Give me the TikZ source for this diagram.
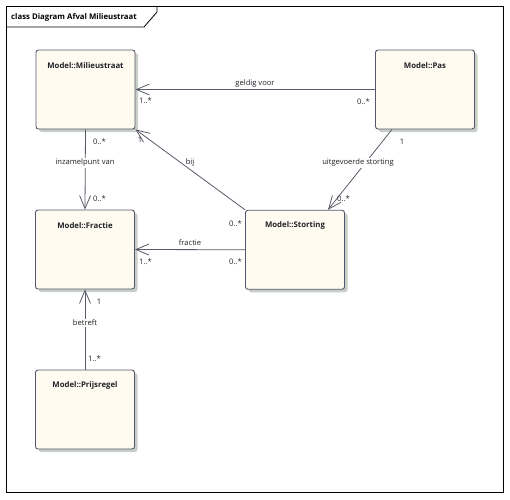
\documentclass[tikz,border=0pt]{standalone}
\usepackage{fontspec}
\setmainfont{Open Sans}
\usetikzlibrary{arrows.meta}
\definecolor{boxfill}{HTML}{FFFBF0}
\definecolor{boxline}{HTML}{55556E}
\definecolor{shadowc}{HTML}{C8CFC6}
\definecolor{linec}{HTML}{5A5A6A}
\definecolor{txtc}{HTML}{202028}
\tikzset{
  classbox/.style={draw=boxline, fill=boxfill, line width=0.9pt, rounded corners=2.5pt,
    minimum width=99pt, minimum height=79pt, inner sep=0pt,
    preaction={draw=none, fill=shadowc, transform canvas={xshift=3pt,yshift=-3pt}}},
  boxtitle/.style={font=\fontsize{7.8}{9}\selectfont\bfseries, text=txtc, inner sep=0pt},
  assoc/.style={draw=linec, line width=0.8pt, -{Straight Barb[length=13pt,width=11pt,line width=0.8pt]}},
  lbl/.style={font=\fontsize{7.6}{9}\selectfont, text=txtc, inner sep=1pt},
  onlbl/.style={lbl, fill=white, inner sep=1.5pt},
  mult/.style={font=\fontsize{7.6}{9}\selectfont, text=txtc, inner sep=0pt}
}
\begin{document}
\begin{tikzpicture}[x=1pt,y=-1pt]
\useasboundingbox (0,0) rectangle (510,499);
% frame
\draw[black, line width=1.2pt] (6.5,6.5) rectangle (503.5,492.5);
\draw[black, line width=0.8pt] (157,6.5) -- (157,12) -- (144,27) -- (6.5,27);
\node[font=\fontsize{7.8}{9}\selectfont\bfseries, text=black, anchor=west, inner sep=0pt] (ftitle) at (11,17) {class Diagram Afval Milieustraat};
% classes
\node[classbox] (mil) at (85.5,89.5) {};
\node[classbox] (pas) at (425,89.5) {};
\node[classbox] (fra) at (85,249.5) {};
\node[classbox] (sto) at (295,249.75) {};
\node[classbox] (prs) at (85,409.5) {};
\node[boxtitle] (milt) at ([yshift=-16pt]mil.north) {Model::Milieustraat};
\node[boxtitle] (past) at ([yshift=-16pt]pas.north) {Model::Pas};
\node[boxtitle] (frat) at ([yshift=-16pt]fra.north) {Model::Fractie};
\node[boxtitle] (stot) at ([yshift=-16pt]sto.north) {Model::Storting};
\node[boxtitle] (prst) at ([yshift=-16pt]prs.north) {Model::Prijsregel};
% associations
\draw[assoc] (pas.west) -- (mil.east);
\draw[assoc] (sto.north west) -- (mil.south east);
\draw[assoc] ([xshift=-33pt]pas.south) -- ([xshift=33pt]sto.north);
\draw[assoc] (sto.west) -- (fra.east);
\draw[assoc] (mil.south) -- (fra.north);
\draw[assoc] (prs.north) -- (fra.south);
% association labels
\node[lbl] (lgeldig) at (255,84) {geldig voor};
\node[onlbl] (luitg) at (358,163) {uitgevoerde storting};
\node[onlbl] (linz) at (85,163) {inzamelpunt van};
\node[lbl] (lbij) at (190,163) {bij};
\node[lbl] (lfrac) at (190,243) {fractie};
\node[onlbl] (lbetr) at (85,323) {betreft};
% multiplicities
\node[mult, anchor=west] (m1) at (139,100.5) {1..*};
\node[mult, anchor=east] (m2) at (370,102) {0..*};
\node[mult] (m3) at (402,142) {1};
\node[mult, anchor=west] (m4) at (337,199) {0..*};
\node[mult] (m5) at (140,140) {1};
\node[mult, anchor=west] (m6) at (93,142) {0..*};
\node[mult, anchor=west] (m7) at (93,199) {0..*};
\node[mult, anchor=east] (m8) at (242,224) {0..*};
\node[mult, anchor=west] (m9) at (139,262) {1..*};
\node[mult, anchor=east] (m10) at (242,262) {0..*};
\node[mult] (m11) at (99,302) {1};
\node[mult, anchor=west] (m12) at (88,359) {1..*};
\end{tikzpicture}
\end{document}
